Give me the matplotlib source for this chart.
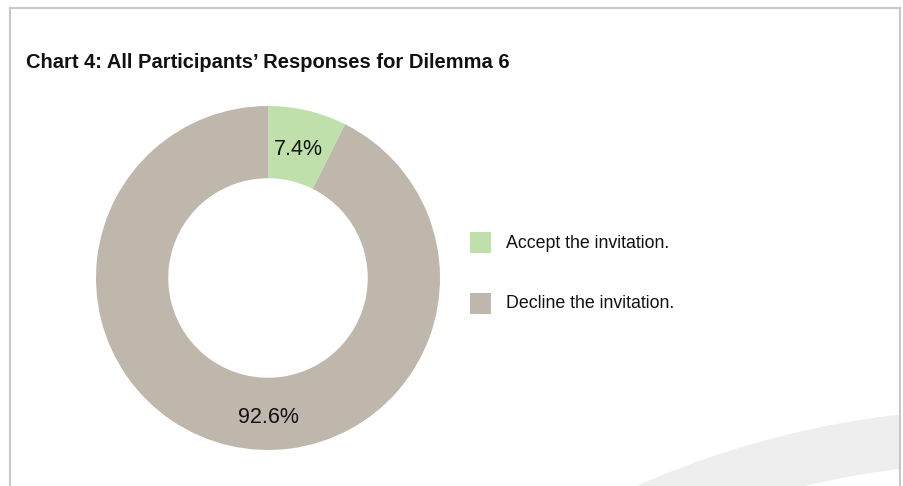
import matplotlib
matplotlib.use("Agg")
import matplotlib.pyplot as plt
from matplotlib.patches import Wedge, Rectangle
from matplotlib.lines import Line2D

# data
labels = ['Accept the invitation.', 'Decline the invitation.']
values = [7.4, 92.6]
colors = ['#bfe0aa', '#bfb6ac']
title = 'Chart 4: All Participants\u2019 Responses for Dilemma 6'

plt.rcParams['font.family'] = ['Liberation Sans', 'DejaVu Sans']

W, H = 904, 486
fig = plt.figure(figsize=(W / 100, H / 100), dpi=100)
fig.patch.set_facecolor('white')

# decorative grey swoosh in the bottom right corner
clip = Rectangle((10 / W, 0), 890 / W, 1, transform=fig.transFigure, fill=False, visible=False)
fig.add_artist(clip)
band = Wedge((10.0, -8.19), 8.96, 0, 360, width=0.54, transform=fig.dpi_scale_trans,
             facecolor='#eeeeee', edgecolor='none', zorder=0)
band.set_clip_path(clip)
fig.add_artist(band)

# frame lines
bc = '#c8c8c8'
fig.add_artist(Line2D([10 / W, 10 / W], [0, 1 - 8 / H], color=bc, lw=1.5, transform=fig.transFigure))
fig.add_artist(Line2D([10 / W, 900 / W], [1 - 8 / H, 1 - 8 / H], color=bc, lw=1.5, transform=fig.transFigure))
fig.add_artist(Line2D([900 / W, 900 / W], [0, 1 - 8 / H], color=bc, lw=1.5, transform=fig.transFigure))

fig.text(26 / W, 1 - 62 / H, title, fontsize=14.5, fontweight='bold', color='#111111',
         ha='left', va='center')

# donut
ax = fig.add_axes([96 / W, 36 / H, 344 / W, 344 / H])
wedges, texts, autotexts = ax.pie(values, colors=colors, startangle=90, counterclock=False,
                                  radius=1.0, wedgeprops=dict(width=0.42, edgecolor='none'),
                                  autopct='%.1f%%', pctdistance=0.77,
                                  textprops=dict(fontsize=15.5, color='#111111'))
ax.set_xlim(-1, 1)
ax.set_ylim(-1, 1)
ax.set_aspect('equal')
ax.axis('off')
# second label sits straight below the hole
autotexts[1].set_position((0, -0.81))

# legend
ys = [243, 303]
for lab, col, y in zip(labels, colors, ys):
    fig.add_artist(Rectangle((470 / W, 1 - (y + 10.5) / H), 21 / W, 21 / H,
                             transform=fig.transFigure, facecolor=col, edgecolor='none'))
    fig.text(506 / W, 1 - y / H, lab, fontsize=12.8, color='#111111', ha='left', va='center')

fig.savefig('out.png', dpi=100, facecolor='white')
